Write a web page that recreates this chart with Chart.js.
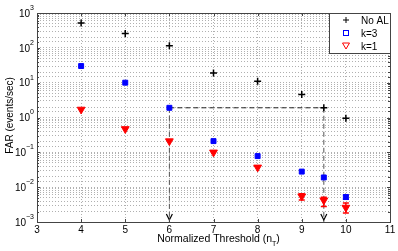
<!DOCTYPE html>
<html>
<head>
<meta charset="utf-8">
<script src="https://cdn.jsdelivr.net/npm/chart.js@4"></script>
<style>
  html, body { margin: 0; padding: 0; background: #fff; }
  #wrap { width: 398px; height: 251px; }
</style>
</head>
<body>
<div id="wrap"><canvas id="far" width="398" height="251"></canvas></div>
<script>
// values
const thresholds = [4, 5, 6, 7, 8, 9, 9.5, 10];
const farNoAL = [520, 260, 115, 19, 11, 4.6, 1.9, 0.95];
const farK3 = [30, 10, 1.9, 0.21, 0.078, 0.028, 0.019, 0.0052];
const farK1 = [1.7, 0.47, 0.21, 0.1, 0.037, 0.0055, 0.0042, 0.0026];
// error bars (low / high), null where none
const k1Low  = [null, null, null, null, null, 0.0043, 0.0028, 0.0018];
const k1High = [null, null, null, null, null, 0.0065, 0.0051, 0.0035];
const k3Low  = [null, null, null, null, null, null, null, 0.0045];
const k3High = [null, null, null, null, null, null, null, 0.0060];
// dashed guide from k=3 at n=6 to No AL at n=9.5
const guideX = [6, 9.5];
const guideY = 1.9;
const yFloor = 0.001;
const xTicks = [3, 4, 5, 6, 7, 8, 9, 10, 11];
const yExponents = [-3, -2, -1, 0, 1, 2, 3];
const seriesNames = ['No AL', 'k=3', 'k=1'];

const FONT = '"Liberation Sans", Arial, sans-serif';

function pts(xs, ys) {
    return xs.map((x, i) => ({ x: x, y: ys[i] }));
}

const decorations = {
    id: 'decorations',
    afterDatasetsDraw(chart) {
        const ctx = chart.ctx;
        const xs = chart.scales.x, ys = chart.scales.y;
        ctx.save();
        // error bars
        function bars(low, high, color) {
            ctx.strokeStyle = color;
            ctx.lineWidth = 1.5;
            thresholds.forEach((t, i) => {
                if (low[i] == null) return;
                const px = xs.getPixelForValue(t);
                const y1 = ys.getPixelForValue(low[i]);
                const y2 = ys.getPixelForValue(high[i]);
                ctx.beginPath();
                ctx.moveTo(px, y1); ctx.lineTo(px, y2);
                ctx.moveTo(px - 3, y1); ctx.lineTo(px + 3, y1);
                ctx.moveTo(px - 3, y2); ctx.lineTo(px + 3, y2);
                ctx.stroke();
            });
        }
        bars(k1Low, k1High, '#ff0000');
        bars(k3Low, k3High, '#0000ff');
        // arrow heads on the guide lines
        ctx.strokeStyle = '#000';
        ctx.lineWidth = 1.2;
        guideX.forEach(g => {
            const px = xs.getPixelForValue(g);
            const py = ys.getPixelForValue(yFloor) - 2;
            ctx.beginPath();
            ctx.moveTo(px - 3, py - 6);
            ctx.lineTo(px, py);
            ctx.lineTo(px + 3, py - 6);
            ctx.stroke();
        });
        ctx.restore();
    },
    afterDraw(chart) {
        const ctx = chart.ctx;
        const a = chart.chartArea;
        const xs = chart.scales.x, ys = chart.scales.y;
        ctx.save();
        // axes box
        ctx.strokeStyle = '#444';
        ctx.lineWidth = 1;
        ctx.strokeRect(Math.round(a.left) + 0.5, Math.round(a.top) + 0.5,
            Math.round(a.right - a.left), Math.round(a.bottom - a.top));
        // inward tick marks
        ctx.beginPath();
        xTicks.forEach(t => {
            const px = Math.round(xs.getPixelForValue(t)) + 0.5;
            ctx.moveTo(px, a.bottom); ctx.lineTo(px, a.bottom - 3);
            ctx.moveTo(px, a.top); ctx.lineTo(px, a.top + 3);
        });
        ys.ticks.forEach(tk => {
            const v = tk.value;
            const py = Math.round(ys.getPixelForValue(v)) + 0.5;
            const major = Math.abs(Math.log10(v) - Math.round(Math.log10(v))) < 1e-6;
            const len = major ? 3 : 2;
            ctx.moveTo(a.left, py); ctx.lineTo(a.left + len, py);
            ctx.moveTo(a.right, py); ctx.lineTo(a.right - len, py);
        });
        ctx.stroke();

        ctx.fillStyle = '#000';
        // y tick labels 10^n
        yExponents.forEach(e => {
            const py = ys.getPixelForValue(Math.pow(10, e));
            const ex = String(e).replace('-', '\u2212');
            ctx.font = '7px ' + FONT;
            const ew = ctx.measureText(ex).width;
            const right = a.left - 3;
            ctx.textAlign = 'left';
            ctx.textBaseline = 'middle';
            ctx.fillText(ex, right - ew, py - 5);
            ctx.font = '10px ' + FONT;
            ctx.textAlign = 'right';
            ctx.fillText('10', right - ew, py + 1);
        });
        // x tick labels
        ctx.font = '10px ' + FONT;
        ctx.textAlign = 'center';
        ctx.textBaseline = 'middle';
        xTicks.forEach(t => {
            ctx.fillText(String(t), xs.getPixelForValue(t), a.bottom + 8);
        });
        // x title with subscript
        const main = 'Normalized Threshold (n';
        ctx.font = '10.5px ' + FONT;
        const mw = ctx.measureText(main).width;
        ctx.font = '7px ' + FONT;
        const sw = ctx.measureText('T').width;
        ctx.font = '10.5px ' + FONT;
        const cw = ctx.measureText(')').width;
        const sx = (a.left + a.right) / 2 + 5 - (mw + sw + cw) / 2;
        const ty = a.bottom + 17;
        ctx.textAlign = 'left';
        ctx.fillText(main, sx, ty);
        ctx.fillText(')', sx + mw + sw, ty);
        ctx.font = '7px ' + FONT;
        ctx.fillText('T', sx + mw, ty + 5);
        // y title
        ctx.font = '10px ' + FONT;
        ctx.save();
        ctx.translate(10, (a.top + a.bottom) / 2 - 2);
        ctx.rotate(-Math.PI / 2);
        ctx.textAlign = 'center';
        ctx.fillText('FAR (events/sec)', 0, 0);
        ctx.restore();

        // legend box
        const lx = a.right - 61, ly = a.top, lw = 61, lh = 40;
        ctx.fillStyle = '#fff';
        ctx.fillRect(lx, ly, lw, lh);
        ctx.strokeStyle = '#444';
        ctx.strokeRect(Math.round(lx) + 0.5, Math.round(ly) + 0.5, lw, lh);
        const rows = [ly + 7, ly + 20, ly + 33];
        const mx = lx + 17;
        // No AL: plus
        ctx.strokeStyle = '#000';
        ctx.lineWidth = 1;
        ctx.beginPath();
        ctx.moveTo(mx - 3, rows[0]); ctx.lineTo(mx + 3, rows[0]);
        ctx.moveTo(mx, rows[0] - 3); ctx.lineTo(mx, rows[0] + 3);
        ctx.stroke();
        // k=3: open square
        ctx.strokeStyle = '#0000ff';
        ctx.strokeRect(mx - 2.5, rows[1] - 2.5, 5, 5);
        // k=1: open down triangle
        ctx.strokeStyle = '#ff0000';
        ctx.beginPath();
        ctx.moveTo(mx - 3.5, rows[2] - 3);
        ctx.lineTo(mx + 3.5, rows[2] - 3);
        ctx.lineTo(mx, rows[2] + 3);
        ctx.closePath();
        ctx.stroke();
        ctx.fillStyle = '#000';
        ctx.font = '10px ' + FONT;
        ctx.textAlign = 'left';
        ctx.textBaseline = 'middle';
        seriesNames.forEach((n, i) => ctx.fillText(n, lx + 32, rows[i] + 1));
        ctx.restore();
    }
};

const gridDash = { display: false, dash: [1, 2] };

new Chart(document.getElementById('far'), {
    type: 'scatter',
    data: {
        datasets: [
            {
                label: seriesNames[0],
                data: pts(thresholds, farNoAL),
                pointStyle: 'cross',
                pointRadius: 3.5,
                borderWidth: 1.5,
                borderColor: '#000',
                backgroundColor: '#000'
            },
            {
                label: seriesNames[1],
                data: pts(thresholds, farK3),
                pointStyle: 'rect',
                pointRadius: 3.5,
                borderWidth: 1,
                borderColor: '#0000ff',
                backgroundColor: '#0000ff'
            },
            {
                label: seriesNames[2],
                data: pts(thresholds, farK1),
                pointStyle: 'triangle',
                rotation: 180,
                pointRadius: 4.5,
                borderWidth: 1,
                borderColor: '#ff0000',
                backgroundColor: '#ff0000'
            },
            {
                label: 'guide',
                data: pts(guideX, [guideY, guideY]),
                showLine: true,
                pointRadius: 0,
                borderColor: '#222',
                borderWidth: 1,
                borderDash: [5, 3]
            },
            {
                label: 'guideA',
                data: pts([guideX[0], guideX[0]], [guideY, yFloor]),
                showLine: true,
                pointRadius: 0,
                borderColor: '#555',
                borderWidth: 1,
                borderDash: [5, 3]
            },
            {
                label: 'guideB',
                data: pts([guideX[1], guideX[1]], [guideY, yFloor]),
                showLine: true,
                pointRadius: 0,
                borderColor: '#555',
                borderWidth: 1,
                borderDash: [5, 3]
            }
        ]
    },
    options: {
        responsive: false,
        animation: false,
        devicePixelRatio: 1,
        layout: { padding: { left: 37, top: 13, right: 8, bottom: 29 } },
        plugins: { legend: { display: false }, tooltip: { enabled: false } },
        scales: {
            x: {
                type: 'linear',
                min: 3,
                max: 11,
                ticks: { display: false, stepSize: 1 },
                grid: { color: '#b0b0b0', lineWidth: 1, drawTicks: false },
                border: gridDash
            },
            y: {
                type: 'logarithmic',
                min: 0.001,
                max: 1000,
                ticks: { display: false },
                grid: { color: '#b0b0b0', lineWidth: 1, drawTicks: false },
                border: gridDash
            }
        }
    },
    plugins: [decorations]
});
</script>
</body>
</html>
